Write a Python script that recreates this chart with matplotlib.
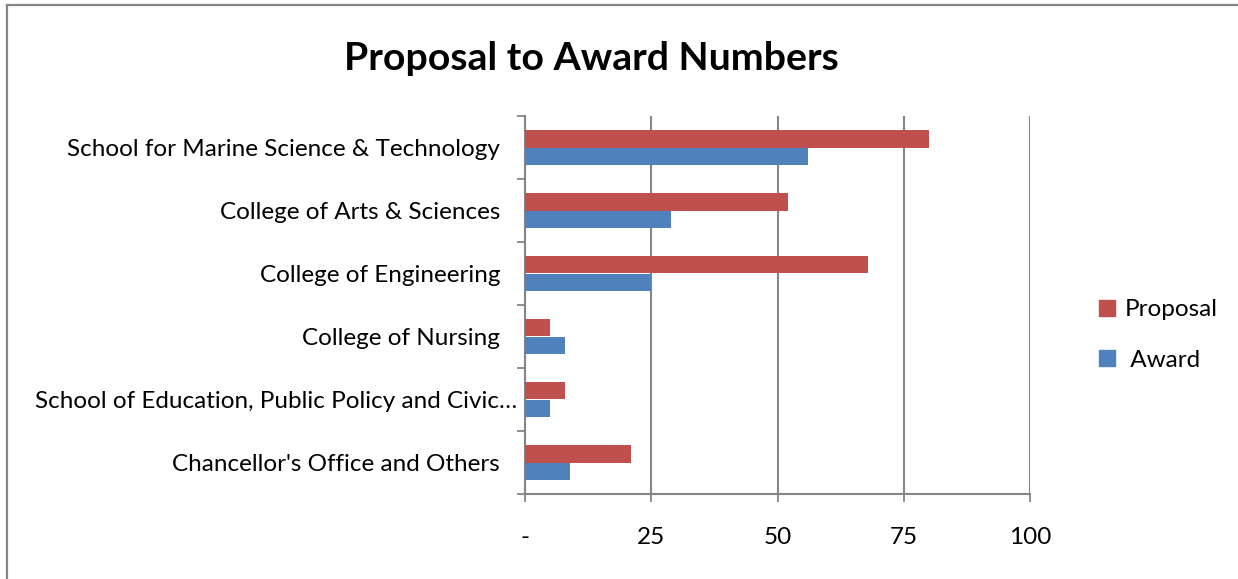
import matplotlib
matplotlib.use("Agg")
import matplotlib.pyplot as plt
from matplotlib.patches import Patch
from matplotlib.lines import Line2D
from matplotlib.transforms import ScaledTranslation
import numpy as np

plt.rcParams['font.family'] = ['Lato', 'DejaVu Sans']

categories = ["School for Marine Science & Technology",
              "College of Arts & Sciences",
              "College of Engineering",
              "College of Nursing",
              "School of Education, Public Policy and Civic\u2026",
              "Chancellor's Office and Others"]
proposal = [80, 52, 68, 5, 8, 21]
award = [56, 29, 25, 8, 5, 9]
xticks = [0, 25, 50, 75, 100]
xticklabels = ["-", "25", "50", "75", "100"]

red = "#C0504D"
blue = "#4F81BD"
gray = "#868686"

fig = plt.figure(figsize=(12.38, 5.79), dpi=100)
ax = fig.add_axes([525/1238, 1-494/579, 505/1238, 378/579])

y = np.arange(len(categories))
h = 0.285
ax.barh(y - h/2, proposal, height=h, color=red, label="Proposal", zorder=3)
ax.barh(y + h/2, award, height=h, color=blue, label=" Award", zorder=3)

ax.set_xlim(0, 100)
ax.set_ylim(len(categories) - 0.5, -0.5)
ax.set_xticks(xticks)
ax.set_xticklabels(xticklabels, fontsize=17.5)
ax.set_yticks(np.arange(len(categories) + 1) - 0.5, minor=True)
ax.set_yticks(y)
ax.set_yticklabels(categories, fontsize=17.5)
ax.tick_params(axis='y', which='major', length=0, pad=18)
ax.tick_params(axis='y', which='minor', length=6, width=1.3, color=gray)
ax.tick_params(axis='x', length=6, width=1.3, color=gray, pad=18)
ax.grid(axis='x', color=gray, linewidth=1.5, zorder=0)
for s in ['top', 'right']:
    ax.spines[s].set_visible(False)
for s in ['left', 'bottom']:
    ax.spines[s].set_color(gray)
    ax.spines[s].set_linewidth(1.5)

# the truncated label runs a little closer to the axis
lab = ax.get_yticklabels()[4]
lab.set_transform(lab.get_transform() + ScaledTranslation(0.17, 0, fig.dpi_scale_trans))

fig.text(591/1238, 1-58/579, "Proposal to Award Numbers", ha='center', va='center',
         fontsize=28.3, fontweight='bold')

handles = [Patch(color=red, label="Proposal"), Patch(color=blue, label=" Award")]
fig.legend(handles=handles, loc='center left', bbox_to_anchor=(1077/1238, 1-335/579),
           frameon=False, fontsize=17.5, handlelength=0.65, handleheight=0.65,
           handletextpad=0.4, labelspacing=1.2)

# chart area border (left and top edges visible)
fig.add_artist(Line2D([7/1238, 7/1238], [0, 1-5/579], color=gray, linewidth=1.6))
fig.add_artist(Line2D([7/1238, 1], [1-5/579, 1-5/579], color=gray, linewidth=1.6))

fig.savefig("out.png", dpi=100)
